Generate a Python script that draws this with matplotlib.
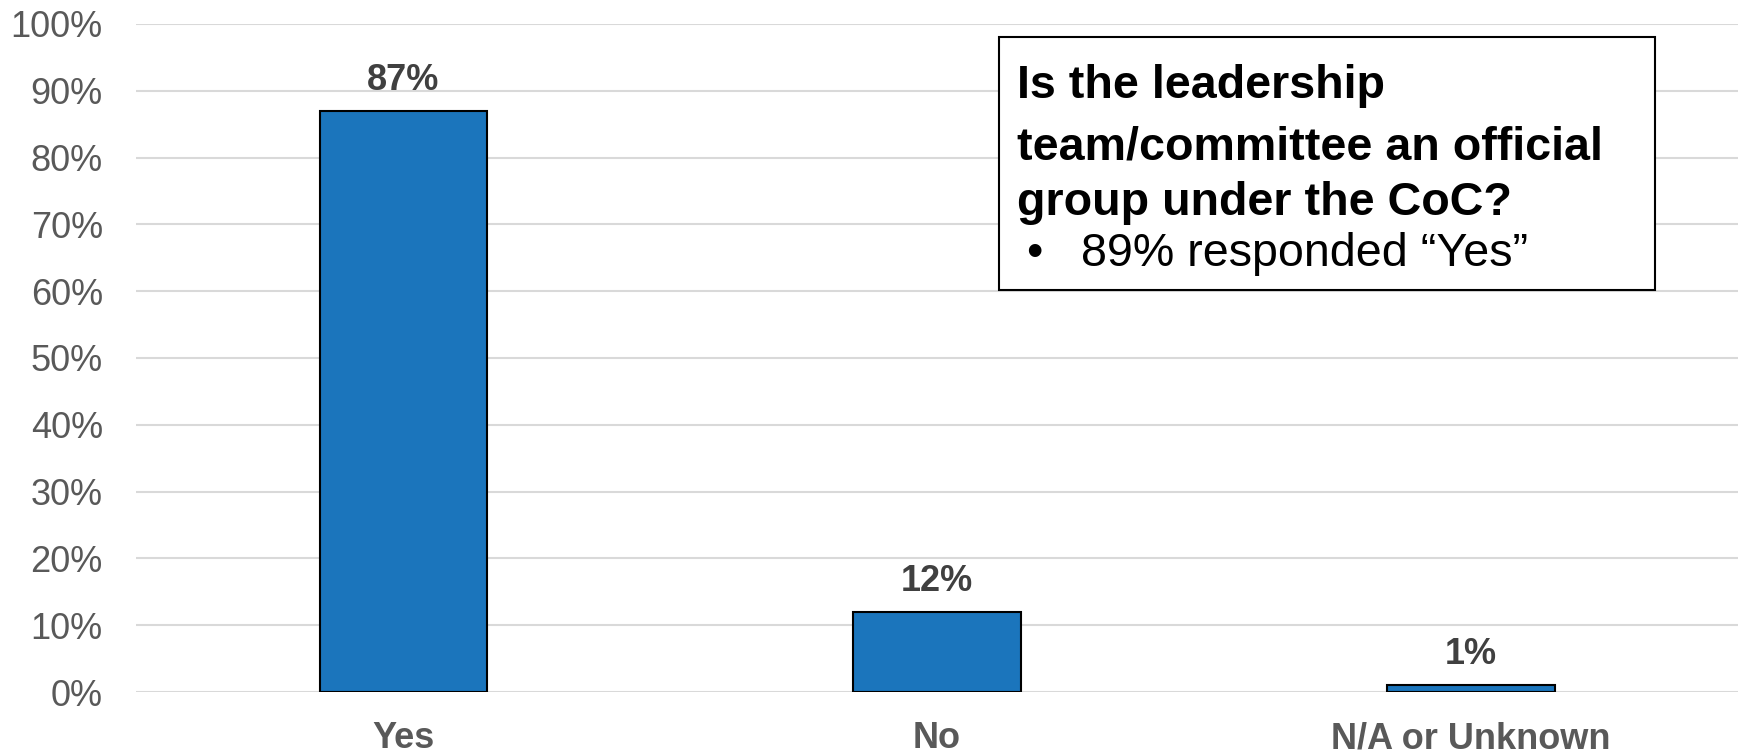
import matplotlib.pyplot as plt
from matplotlib.patches import Rectangle
from matplotlib.ticker import PercentFormatter

plt.rcParams['font.family'] = ['Liberation Sans', 'DejaVu Sans']

categories = ["Yes", "No", "N/A or Unknown"]
shares = [87, 12, 1]
yticks = [0, 10, 20, 30, 40, 50, 60, 70, 80, 90, 100]

box_title = ["Is the leadership", "team/committee an official", "group under the CoC?"]
box_note = "89% responded \u201cYes\u201d"

fig = plt.figure(figsize=(17.38, 7.54), dpi=100)
ax = fig.add_axes([0.0783, 0.0822, 0.9217, 0.8860])

x = range(len(categories))
bars = ax.bar(x, shares, width=0.313, color="#1b75bc", edgecolor="black",
              linewidth=1.5, zorder=3)

for b, v in zip(bars, shares):
    ax.annotate(f"{v}%", (b.get_x() + b.get_width() / 2, v),
                xytext=(0, 22), textcoords="offset points",
                ha="center", va="center", fontsize=26, fontweight="bold",
                color="#404040")

ax.set_xlim(-0.5, len(categories) - 0.5)
ax.set_ylim(0, 100)
ax.set_yticks(yticks)
ax.yaxis.set_major_formatter(PercentFormatter(decimals=0))
ax.set_xticks(list(x))
ax.set_xticklabels(categories, fontweight="bold")
ax.tick_params(axis="y", length=0, pad=24, labelsize=26, labelcolor="#595959")
ax.tick_params(axis="x", length=0, pad=21, labelsize=26, labelcolor="#595959")
ax.grid(axis="y", color="#d9d9d9", linewidth=1.5, zorder=0)
for s in ax.spines.values():
    s.set_visible(False)

# question box in the upper right
fig.patches.append(Rectangle((0.5748, 0.6154), 0.3774, 0.3355,
                             transform=fig.transFigure, facecolor="white",
                             edgecolor="black", linewidth=1.5, zorder=5))
line_y = [1 - 86 / 754, 1 - 147 / 754, 1 - 203 / 754, 1 - 254 / 754]
for ty, t in zip(line_y, box_title):
    fig.text(0.5851, ty, t, fontsize=33.6, fontweight="bold", color="black",
             va="center", ha="left", zorder=6)
fig.text(0.5905, line_y[3], "\u2022", fontsize=33.6, color="black",
         va="center", ha="left", zorder=6)
fig.text(0.6220, line_y[3], box_note, fontsize=33.6, color="black",
         va="center", ha="left", zorder=6)

fig.savefig("out.png", dpi=100)
